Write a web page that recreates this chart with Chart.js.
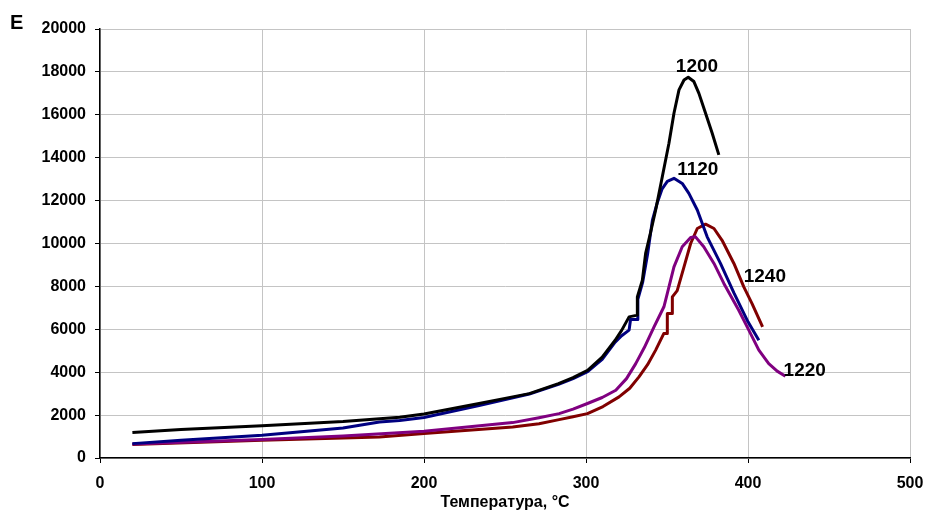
<!DOCTYPE html>
<html>
<head>
<meta charset="utf-8">
<script src="https://cdn.jsdelivr.net/npm/chart.js@4.4.1/dist/chart.umd.min.js"></script>
<style>
    html, body { margin: 0; padding: 0; background: #fff; }
    #wrap { width: 927px; height: 517px; position: relative; }
</style>
</head>
<body>
<div id="wrap"><canvas id="chart" width="927" height="517"></canvas></div>
<script>
const xTicks = [0, 100, 200, 300, 400, 500];
const yTicks = [0, 2000, 4000, 6000, 8000, 10000, 12000, 14000, 16000, 18000, 20000];

const seriesNames = ['1200', '1120', '1220', '1240'];
const seriesColors = ['#000000', '#000080', '#800080', '#800000'];

const temp1200 = [20, 50, 100, 150, 185, 200, 234, 250, 265, 283, 292, 301, 310, 318, 322, 326.6, 331.7, 331.7, 334.8, 336.8, 340, 343, 347.1, 351.2, 354.3, 357.4, 360.5, 363.1, 366.6, 369.7, 373.8, 377.9, 382];
const e1200 = [1190, 1330, 1500, 1700, 1900, 2050, 2540, 2780, 3000, 3470, 3750, 4090, 4700, 5490, 5950, 6580, 6660, 7510, 8290, 9540, 10560, 11560, 13110, 14670, 16070, 17160, 17620, 17750, 17550, 17000, 16070, 15140, 14130];

const temp1120 = [20, 50, 100, 150, 172.5, 185, 200, 234, 265, 283, 292, 301, 310, 318, 322, 326.6, 327.5, 332, 332, 335, 338, 341, 344, 347, 350.2, 354.3, 359.4, 363.5, 368.7, 374.8, 383, 391.3, 400, 406.7];
const e1120 = [670, 830, 1060, 1400, 1680, 1750, 1890, 2450, 2980, 3430, 3700, 4030, 4600, 5400, 5700, 5960, 6460, 6460, 7400, 8200, 9500, 11090, 11900, 12550, 12900, 13040, 12800, 12340, 11560, 10310, 9070, 7700, 6350, 5490];

const temp1220 = [20, 100, 150, 200, 254.7, 271, 283.4, 292, 300.9, 310, 318.4, 325, 330.7, 336, 342, 348.1, 350.2, 354.3, 359.4, 364.6, 367.6, 372.7, 379, 385.1, 394.3, 400.5, 406.7, 412.8, 418, 423.1];
const e1220 = [650, 860, 1030, 1250, 1650, 1880, 2070, 2280, 2540, 2820, 3160, 3700, 4400, 5150, 6110, 7050, 7670, 8910, 9850, 10280, 10310, 9850, 9070, 8140, 6890, 5960, 5030, 4400, 4050, 3810];

const temp1240 = [20, 100, 172.5, 200, 254.7, 271, 283.4, 292, 300.9, 310.5, 320.4, 327, 332.7, 338, 343, 348, 350.2, 350.2, 353.3, 353.3, 356.3, 360.5, 364.6, 368.7, 373.8, 379, 384, 391.3, 397.4, 402.5, 409];
const e1240 = [625, 825, 980, 1140, 1450, 1600, 1790, 1920, 2070, 2400, 2850, 3250, 3780, 4350, 5030, 5800, 5800, 6740, 6740, 7510, 7800, 8910, 10000, 10700, 10900, 10700, 10150, 9070, 7980, 7200, 6110];

const temps = [temp1200, temp1120, temp1220, temp1240];
const values = [e1200, e1120, e1220, e1240];

// where each curve name sits, in data units
const curveLabels = [
    { text: '1200', x: 368.5, y: 18230 },
    { text: '1120', x: 369, y: 13420 },
    { text: '1240', x: 410.4, y: 8430 },
    { text: '1220', x: 435, y: 4090 }
];

const fontFamily = 'Arial, "Liberation Sans", sans-serif';

const datasets = seriesNames.map((name, i) => ({
    label: name,
    data: temps[i].map((t, j) => ({ x: t, y: values[i][j] })),
    showLine: true,
    borderColor: seriesColors[i],
    borderWidth: 3,
    borderJoinStyle: 'round',
    pointRadius: 0,
    fill: false,
    tension: 0
}));

const labelPlugin = {
    id: 'curveLabels',
    afterDatasetsDraw(chart) {
        const ctx = chart.ctx;
        const xs = chart.scales.x;
        const ys = chart.scales.y;
        ctx.save();
        ctx.fillStyle = '#000';
        ctx.font = 'bold 19px ' + fontFamily;
        ctx.textAlign = 'center';
        ctx.textBaseline = 'middle';
        curveLabels.forEach(l => {
            ctx.fillText(l.text, xs.getPixelForValue(l.x), ys.getPixelForValue(l.y));
        });
        ctx.font = 'bold 20px ' + fontFamily;
        ctx.textAlign = 'left';
        ctx.textBaseline = 'alphabetic';
        ctx.fillText('E', 10, 29);
        ctx.restore();
    }
};

new Chart(document.getElementById('chart').getContext('2d'), {
    type: 'scatter',
    data: { datasets },
    plugins: [labelPlugin],
    options: {
        responsive: false,
        animation: false,
        layout: { padding: { top: 29, right: 17, bottom: 0, left: 0 } },
        plugins: {
            legend: { display: false },
            tooltip: { enabled: false }
        },
        scales: {
            x: {
                type: 'linear',
                min: xTicks[0],
                max: xTicks[xTicks.length - 1],
                afterBuildTicks: scale => { scale.ticks = xTicks.map(v => ({ value: v })); },
                afterFit: scale => {
                    scale.height = 59;
                    scale.paddingLeft = 0;
                    scale.paddingRight = 0;
                },
                grid: { color: '#c4c4c4', lineWidth: 1, tickLength: 5, tickColor: '#000' },
                border: { color: '#000', width: 1.5 },
                ticks: {
                    color: '#000',
                    padding: 11,
                    font: { family: fontFamily, size: 16, weight: 'bold' },
                    callback: v => String(v)
                },
                title: {
                    display: true,
                    text: 'Температура, °C',
                    color: '#000',
                    padding: { top: 0, bottom: 5 },
                    font: { family: fontFamily, size: 16, weight: 'bold' }
                }
            },
            y: {
                type: 'linear',
                min: yTicks[0],
                max: yTicks[yTicks.length - 1],
                afterBuildTicks: scale => { scale.ticks = yTicks.map(v => ({ value: v })); },
                afterFit: scale => {
                    scale.width = 100;
                    scale.paddingTop = 0;
                    scale.paddingBottom = 0;
                },
                grid: { color: '#c4c4c4', lineWidth: 1, tickLength: 5, tickColor: '#000' },
                border: { color: '#000', width: 1.5 },
                ticks: {
                    color: '#000',
                    padding: 9,
                    font: { family: fontFamily, size: 16, weight: 'bold' },
                    callback: v => String(v)
                }
            }
        }
    }
});
</script>
</body>
</html>
